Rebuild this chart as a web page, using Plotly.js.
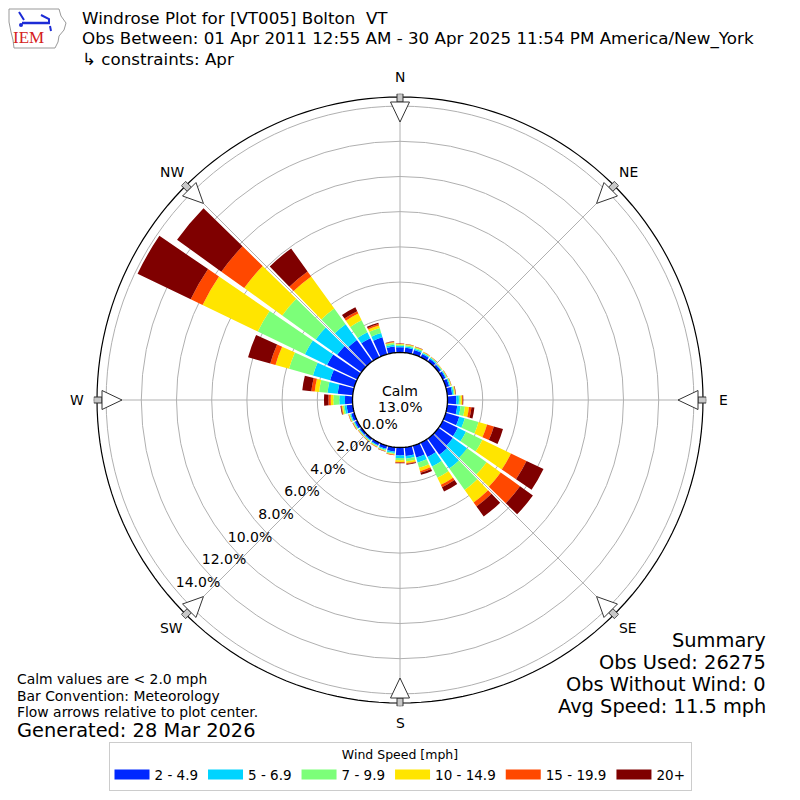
<!DOCTYPE html>
<html><head><meta charset="utf-8">
<script src="https://cdn.plot.ly/plotly-3.0.1.min.js"></script>
<style>html,body{margin:0;padding:0;background:#fff}#chart{width:800px;height:800px}</style>
</head><body><div id="chart"></div>
<script>
// ---------- data ----------
const directions = [0,10,20,30,40,50,60,70,80,90,100,110,120,130,140,150,160,170,180,190,200,210,220,230,240,250,260,270,280,290,300,310,320,330,340,350];
const speedBins = ['2 - 4.9','5 - 6.9','7 - 9.9','10 - 14.9','15 - 19.9','20+'];
const binColors = ['#0028ff','#00d4ff','#7cff79','#ffe500','#ff4800','#7f0000'];
// percent of observations per direction, per speed bin
const pct_2_5   = [0.30,0.28,0.25,0.20,0.19,0.16,0.17,0.20,0.28,0.50,0.57,0.80,0.95,1.00,1.13,0.90,0.70,0.50,0.45,0.25,0.18,0.15,0.12,0.12,0.15,0.18,0.35,0.43,0.86,1.43,1.90,1.70,1.50,1.20,1.00,0.35];
const pct_5_7   = [0.08,0.08,0.08,0.06,0.06,0.05,0.05,0.06,0.08,0.15,0.19,0.33,0.51,1.00,0.97,0.60,0.30,0.15,0.15,0.08,0.06,0.05,0.05,0.05,0.05,0.06,0.12,0.32,0.58,1.01,1.40,1.50,1.10,0.37,0.25,0.10];
const pct_7_10  = [0.07,0.07,0.06,0.04,0.04,0.03,0.04,0.04,0.06,0.10,0.25,0.81,1.04,1.36,1.50,0.70,0.30,0.15,0.12,0.06,0.05,0.04,0.03,0.03,0.04,0.05,0.09,0.34,0.48,1.41,2.97,2.34,1.10,0.76,0.30,0.10];
const pct_10_15 = [0.04,0.04,0.04,0.03,0.02,0.02,0.02,0.03,0.04,0.08,0.23,0.50,1.80,0.99,0.87,0.45,0.20,0.10,0.10,0.04,0.03,0.03,0.03,0.03,0.03,0.03,0.06,0.15,0.25,0.80,3.48,2.66,2.25,0.43,0.15,0.05];
const pct_15_20 = [0.02,0.02,0.02,0.01,0.01,0.01,0.01,0.01,0.02,0.04,0.14,0.40,0.98,1.35,0.28,0.15,0.10,0.05,0.05,0.02,0.02,0.02,0.01,0.01,0.02,0.02,0.04,0.13,0.19,0.31,0.75,1.60,0.35,0.14,0.08,0.03];
const pct_20p   = [0.01,0.01,0.01,0.01,0.01,0.00,0.01,0.01,0.02,0.03,0.17,0.54,1.07,0.90,0.70,0.27,0.12,0.05,0.03,0.01,0.01,0.01,0.01,0.01,0.01,0.01,0.04,0.25,0.52,1.31,3.35,3.10,1.60,0.25,0.08,0.02];
const radialTicks = [0,2,4,6,8,10,12,14];
const radialTickText = ['0.0%','2.0%','4.0%','6.0%','8.0%','10.0%','12.0%','14.0%'];
const compassVals = [0,45,90,135,180,225,270,315];
const compassText = ['N','NE','E','SE','S','SW','W','NW'];
const calmLabel = 'Calm';
const calmPct = '13.0%';
const summaryLines = ['Summary','Obs Used: 26275','Obs Without Wind: 0','Avg Speed: 11.5 mph'];
const noteLines = ['Calm values are < 2.0 mph','Bar Convention: Meteorology','Flow arrows relative to plot center.'];
const generatedText = 'Generated: 28 Mar 2026';
const titleLines = ['Windrose Plot for [VT005] Bolton  VT','Obs Between: 01 Apr 2011 12:55 AM - 30 Apr 2025 11:54 PM America/New_York','\u21b3 constraints: Apr'];
const legendTitle = 'Wind Speed [mph]';

// ---------- geometry ----------
const CX = 400, CY = 400;
const PX_PER_UNIT = 17.6, HOLE_PX = 47.5, EDGE_PX = 306.5, FRAME_PX = 303, LABEL_PX = 323;
const rMin = -HOLE_PX / PX_PER_UNIT;
const rMax = (EDGE_PX - HOLE_PX) / PX_PER_UNIT;
const px2r = p => (p - HOLE_PX) / PX_PER_UNIT;
const FONT = 'DejaVu Sans, Liberation Sans, sans-serif';

const traces = [];
// legend keys (wide rectangles like the reference), hidden under the calm disc
speedBins.forEach((name, i) => traces.push({type:'scatterpolar', mode:'lines', r:[rMin, rMin], theta:[0, 0],
  name: name, line:{color: binColors[i], width: 10}, hoverinfo:'skip', showlegend:true}));

const series = [pct_2_5, pct_5_7, pct_7_10, pct_10_15, pct_15_20, pct_20p];
series.forEach((vals, i) => traces.push({
  type: 'barpolar', r: vals, theta: directions, name: speedBins[i], showlegend:false,
  width: 8.6, marker: {color: binColors[i], line: {width: 0}}, hoverinfo: 'skip'
}));

// calm disc (white, black outline) and outer frame
const circT = [], circR = [], frameR = [];
for (let a = 0; a <= 360; a += 2) { circT.push(a); circR.push(0); frameR.push(px2r(FRAME_PX)); }
traces.push({type:'scatterpolar', mode:'lines', r: circR, theta: circT, fill:'toself',
  fillcolor:'#ffffff', line:{color:'#000000', width:1.3}, showlegend:false, hoverinfo:'skip'});
traces.push({type:'scatterpolar', mode:'lines', r: frameR, theta: circT,
  line:{color:'#000000', width:1.2}, showlegend:false, hoverinfo:'skip'});

// flow arrows pointing to the plot center; points given as (distance, sideways offset) in px
function polyPolar(b, pts){
  const r = [], t = [];
  pts.forEach(([d,p]) => { r.push(px2r(Math.hypot(d,p))); t.push(b + Math.atan2(p,d)*180/Math.PI); });
  return {r, theta: t};
}
compassVals.forEach(b => {
  const shaft = polyPolar(b, [[298,3],[306.3,3],[306.3,-3],[298,-3],[298,3]]);
  const head = polyPolar(b, [[278,0],[298,9.5],[298,-9.5],[278,0]]);
  traces.push({type:'scatterpolar', mode:'lines', r: shaft.r, theta: shaft.theta, fill:'toself',
    fillcolor:'#c8c8c8', line:{color:'#333333', width:1}, showlegend:false, hoverinfo:'skip'});
  traces.push({type:'scatterpolar', mode:'lines', r: head.r, theta: head.theta, fill:'toself',
    fillcolor:'#ffffff', line:{color:'#333333', width:1}, showlegend:false, hoverinfo:'skip'});
});

// radial tick labels: placed along a line toward SW, slightly inside each ring
const lblR = [], lblT = [];
radialTicks.forEach((v, i) => {
  const dx = -20 - 26 * i, dy = 25 + 22.6 * i;       // px offset from center
  lblR.push(px2r(Math.hypot(dx, dy)));
  lblT.push((Math.atan2(dx, -dy) * 180 / Math.PI + 360) % 360);
});
traces.push({type:'scatterpolar', mode:'text', r: lblR, theta: lblT,
  text: radialTickText, textposition:'middle center', textfont:{family:FONT, size:14, color:'#000'},
  showlegend:false, hoverinfo:'skip', cliponaxis:false});

// ---------- annotations ----------
const ann = [];
const A = (txt, px, py, size, xanchor, extra) => ann.push(Object.assign({
  text: txt, xref:'paper', yref:'paper', x: px/800, y: 1 - py/800, xanchor: xanchor, yanchor:'middle',
  showarrow:false, font:{family:FONT, size:size, color:'#000'}}, extra || {}));
A(titleLines[0], 80, 18.5, 16.7, 'left');
A(titleLines[1], 80, 38.5, 16.7, 'left');
A(titleLines[2], 80, 58.5, 16.7, 'left');
summaryLines.forEach((t, i) => A(t, 768, 640 + i*22, 19.4, 'right'));
noteLines.forEach((t, i) => A(t, 15, 679 + i*16.5, 13.9, 'left'));
A(generatedText, 15, 730, 19.4, 'left');
A(calmLabel, CX, CY - 9, 14, 'center');
A(calmPct, CX, CY + 7, 14, 'center');
// compass labels outside the frame
compassVals.forEach((b, i) => {
  const a = b * Math.PI / 180;
  A(compassText[i], CX + LABEL_PX * Math.sin(a), CY - LABEL_PX * Math.cos(a), 13.9, 'center');
});
// IEM logo text
A('IEM', 29, 38, 17, 'center', {font:{family:'Liberation Serif, serif', size:17, color:'#d42020'}});

// logo outline & icon (decoration)
const P = (x,y) => (x/800).toFixed(5) + ',' + (1 - y/800).toFixed(5);
const shapes = [
  {type:'path', xref:'paper', yref:'paper', line:{color:'#999', width:1},
   path:'M'+P(9,9)+' L'+P(59,9)+' L'+P(61,16)+' L'+P(66,23)+' L'+P(64,30)+' L'+P(59,36)+' L'+P(58,42)+' L'+P(55,48)+' L'+P(14,48)+' L'+P(13,40)+' L'+P(11,32)+' L'+P(9,22)+' Z'},
  {type:'path', xref:'paper', yref:'paper', line:{color:'#1c2bd6', width:2.5},
   path:'M'+P(22,23)+' L'+P(50,23)},
  {type:'path', xref:'paper', yref:'paper', line:{color:'#1c2bd6', width:2},
   path:'M'+P(19,12)+' L'+P(24,20)+' M'+P(41,15)+' L'+P(49,19)+' L'+P(49,23)+' M'+P(50,26)+' L'+P(51,31)},
  {type:'circle', xref:'paper', yref:'paper', x0:19/800, x1:23/800, y0:1-27/800, y1:1-23/800,
   fillcolor:'#1c2bd6', line:{width:0}}
];

const layout = {
  width: 800, height: 800, margin:{l:0,r:0,t:0,b:0}, paper_bgcolor:'#fff',
  showlegend: true,
  polar: {
    domain: {x:[(CX-EDGE_PX)/800, (CX+EDGE_PX)/800], y:[(CY-EDGE_PX)/800, (CY+EDGE_PX)/800]},
    bgcolor:'#fff', hole: 0, barmode:'stack', bargap: 0,
    angularaxis: {rotation:90, direction:'clockwise', tickmode:'array', tickvals: compassVals,
      showticklabels:false, showline:false, gridcolor:'#b0b0b0', gridwidth:1, ticks:''},
    radialaxis: {range:[rMin, rMax], tickmode:'array', tickvals: radialTicks.slice(1), showticklabels:false,
      ticks:'', showline:false, gridcolor:'#b0b0b0', gridwidth:1}
  },
  legend: {orientation:'h', x:0.5, xanchor:'center', y:(800-742)/800, yanchor:'top', itemwidth:35,
    bordercolor:'#cccccc', borderwidth:1, bgcolor:'#fff',
    font:{family:FONT, size:13.5, color:'#000'},
    title:{text: legendTitle, side:'top center', font:{family:FONT, size:12.5, color:'#000'}}},
  annotations: ann, shapes: shapes
};
Plotly.newPlot('chart', traces, layout, {displayModeBar:false, staticPlot:true});
</script></body></html>
